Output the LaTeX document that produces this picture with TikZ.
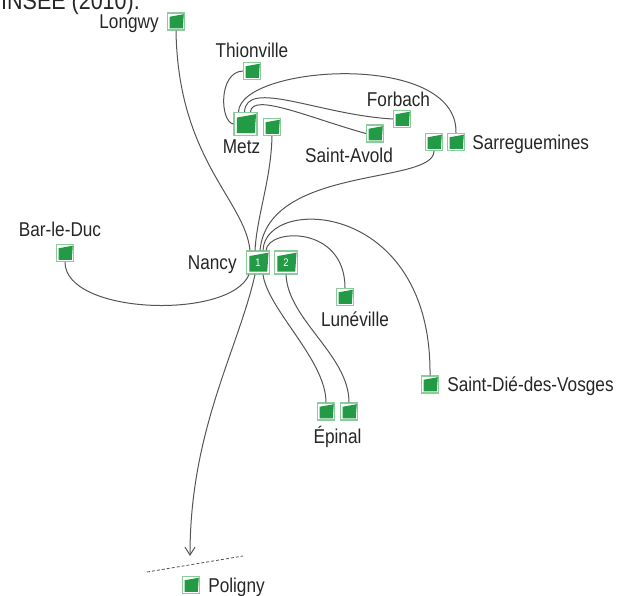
\documentclass[tikz,border=0pt]{standalone}
\usepackage{fontspec}
\setmainfont[FakeStretch=0.86]{Liberation Sans}
\usetikzlibrary{positioning}
\usetikzlibrary{arrows.meta}
\definecolor{SiteGreen}{HTML}{239B46}
\definecolor{LightGreen}{HTML}{8CCB9A}
\definecolor{LinkGray}{HTML}{555555}

\begin{document}
\begin{tikzpicture}[x=1pt, y=-1pt,
  site/.style={draw=LightGreen, line width=1.2pt, fill=white,
    minimum size=#1, inner sep=0pt, path picture={
      \fill[SiteGreen]
        ([shift={(0.13*#1,0.1*#1)}]path picture bounding box.south west)
        -- ([shift={(-0.1*#1,0.1*#1)}]path picture bounding box.south east)
        -- ([shift={(-0.04*#1,-0.07*#1)}]path picture bounding box.north east)
        -- ([shift={(0.13*#1,-0.22*#1)}]path picture bounding box.north west)
        -- cycle;}},
  site/.default=17pt,
  town/.style={font=\fontsize{20}{24}\selectfont, text=black!85,
    inner sep=0pt, text height=14.3pt, text depth=0pt},
  link/.style={LinkGray, line width=1pt}]
  \useasboundingbox (0,0) rectangle (618,595);

  \node[anchor=base west, inner sep=0pt, text=black!85,
    font=\fontsize{25}{30}\selectfont] (Source) at (1,9.5) {INSEE (2010).};

  \foreach \name/\x/\y in {Longwy/176/21.5, Thionville/252/71,
    MetzTwo/272/127, Forbach/402/119, SaintAvold/375/133.5,
    SarreOne/434/142, SarreTwo/456/142, BarLeDuc/65/253,
    Luneville/345/297, SaintDie/430/384.5, EpinalOne/326/411.5,
    EpinalTwo/349/411.5, Poligny/191/585}{%
    \node[site] (\name) at (\x,\y) {};
  }
  \node[site=23pt] (Metz) at (245.5,124) {};
  \node[site=23pt, text=white, font=\fontsize{11}{12}\selectfont]
    (NancyOne) at (258,262.5) {1};
  \node[site=23pt, text=white, font=\fontsize{11}{12}\selectfont]
    (NancyTwo) at (286,262.5) {2};

  \node[town, left=8pt of Longwy] (LongwyLabel) {Longwy};
  \node[town, above=4.5pt of Thionville] (ThionvilleLabel) {Thionville};
  \node[town, below=3pt of Metz, xshift=-4pt] (MetzLabel) {Metz};
  \node[town, above=3pt of Forbach, xshift=-3.5pt] (ForbachLabel) {Forbach};
  \node[town, below=5pt of SaintAvold, xshift=-26pt] (SaintAvoldLabel) {Saint-Avold};
  \node[town, right=7pt of SarreTwo] (SarreLabel) {Sarreguemines};
  \node[town, above=7.5pt of BarLeDuc, xshift=-5pt] (BarLeDucLabel) {Bar-le-Duc};
  \node[town, left=9pt of NancyOne] (NancyLabel) {Nancy};
  \node[town, below=6pt of Luneville, xshift=10pt] (LunevilleLabel) {Lunéville};
  \node[town, right=8pt of SaintDie] (SaintDieLabel) {Saint-Dié-des-Vosges};
  \node[town, below=8pt of EpinalOne, xshift=11.5pt] (EpinalLabel) {Épinal};
  \node[town, right=8pt of Poligny] (PolignyLabel) {Poligny};

  \coordinate (ArrowEnd) at (190,556);
  \coordinate (CutLeft)  at (147,572);
  \coordinate (CutRight) at (243,556);

  % around Metz
  \draw[link] (Metz.west) .. controls (220,122) and (218,72) .. (Thionville.west);
  \draw[link] ([xshift=-7pt]Metz.north) .. controls (240,65) and (458,50) .. (SarreTwo.north);
  \draw[link] ([xshift=-1pt]Metz.north) .. controls (246,78) and (320,115) .. (Forbach.west);
  \draw[link] ([xshift=5pt]Metz.north) .. controls (252,92) and (310,118) .. (SaintAvold.west);

  % around Nancy
  \draw[link] (Longwy.south) .. controls (178,160) and (245,200) .. ([xshift=-8pt]NancyOne.north);
  \draw[link] (MetzTwo.south) .. controls (271,180) and (257,215) .. ([xshift=-3pt]NancyOne.north);
  \draw[link] (SarreOne.south) .. controls (434,185) and (268,165) .. ([xshift=2pt]NancyOne.north);
  \draw[link] ([xshift=5pt]NancyOne.north) .. controls (265,195) and (432,200) .. (SaintDie.north);
  \draw[link] ([xshift=8pt]NancyOne.north) .. controls (268,228) and (345,225) .. (Luneville.north);
  \draw[link] (BarLeDuc.south) .. controls (65,315) and (230,320) .. ([xshift=-9pt]NancyOne.south);
  \draw[link] ([xshift=5pt]NancyOne.south) .. controls (268,310) and (326,360) .. (EpinalOne.north);
  \draw[link] (NancyTwo.south) .. controls (288,320) and (349,355) .. (EpinalTwo.north);
  \draw[link, -{Straight Barb[length=8pt,width=10pt]}] ([xshift=-3pt]NancyOne.south)
    .. controls (238,350) and (190,430) .. (ArrowEnd);

  \draw[LinkGray, line width=0.8pt, dash pattern=on 3pt off 2pt] (CutLeft) -- (CutRight);
\end{tikzpicture}
\end{document}
